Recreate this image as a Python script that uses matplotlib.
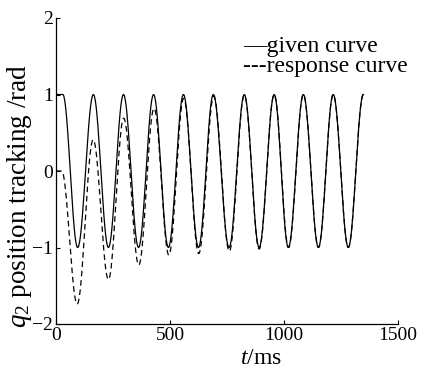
import numpy as np
import matplotlib
matplotlib.use("Agg")
import matplotlib.pyplot as plt

plt.rcParams["font.family"] = ["Liberation Serif", "DejaVu Serif"]
plt.rcParams["mathtext.fontset"] = "custom"
plt.rcParams["mathtext.rm"] = "Liberation Serif"
plt.rcParams["mathtext.it"] = "Liberation Serif:italic"

# extrema (t in ms, angle in rad)
given_t = [0, 30, 95, 164, 230, 296, 362, 428, 493, 559, 625, 690,
           759, 826, 891, 957, 1019, 1085, 1151, 1216, 1282, 1348]
given_y = [1, 1, -1, 1, -1, 1, -1, 1, -1, 1, -1, 1,
           -1, 1, -1, 1, -1, 1, -1, 1, -1, 1]

resp_t = [0, 25, 93, 163, 230, 297, 363, 430, 495, 560, 626, 692,
          760, 826, 891, 957, 1020, 1085, 1151, 1216, 1282, 1348]
resp_y = [0, 0, -1.74, 0.41, -1.42, 0.69, -1.23, 0.82, -1.10, 0.95, -1.08, 0.98,
          -1.05, 0.99, -1.02, 1.0, -1.0, 1.0, -1.0, 1.0, -1.0, 1.0]

xticks = [0, 500, 1000, 1500]
yticks = [-2, -1, 0, 1, 2]


def smooth_path(ts, ys, n=40):
    # join successive extrema with half-cosine arcs
    xs, vs = [ts[0]], [ys[0]]
    for i in range(len(ts) - 1):
        s = np.linspace(0, 1, n)[1:]
        xs.extend(ts[i] + (ts[i + 1] - ts[i]) * s)
        vs.extend(ys[i] + (ys[i + 1] - ys[i]) * (1 - np.cos(np.pi * s)) / 2)
    return np.array(xs), np.array(vs)


fig = plt.figure(figsize=(4.21, 3.69), dpi=100)
ax = fig.add_axes([56 / 421, 45 / 369, 342 / 421, 306 / 369])

gx, gy = smooth_path(given_t, given_y)
rx, ry = smooth_path(resp_t, resp_y)
ax.plot(gx, gy, color="black", lw=0.9)
ax.plot(rx, ry, color="black", lw=0.9, dashes=(4.5, 3))

ax.set_xlim(0, 1500)
ax.set_ylim(-2, 2)
ax.set_xticks(xticks)
ax.set_yticks(yticks)
ax.tick_params(direction="in", length=3, width=0.8, labelsize=14, pad=2)
for side in ["top", "right"]:
    ax.spines[side].set_visible(False)
for side in ["left", "bottom"]:
    ax.spines[side].set_linewidth(0.9)

ax.set_xlabel(r"$t$/ms", fontsize=17, va="center")
ax.xaxis.set_label_coords(0.60, -0.112)
ax.set_ylabel(r"$q_2$ position tracking /rad", fontsize=19.5, va="center")
ax.yaxis.set_label_coords(-0.108, 0.42)

ax.text(0.546, 0.908, "\u2014given curve", transform=ax.transAxes,
        fontsize=17, va="center", ha="left")
ax.text(0.546, 0.841, "---response curve", transform=ax.transAxes,
        fontsize=17, va="center", ha="left")

fig.savefig("out.png", dpi=100)
